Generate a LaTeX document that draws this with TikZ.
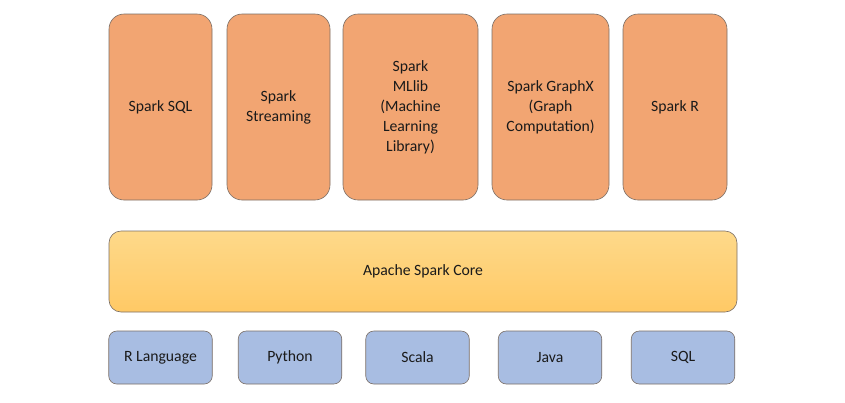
\documentclass[tikz,border=0pt]{standalone}
\usepackage{fontspec}
\setmainfont{Carlito}
\definecolor{orng}{HTML}{F2A572}
\definecolor{coreTop}{HTML}{FED98A}
\definecolor{coreBot}{HTML}{FFC965}
\definecolor{bluef}{HTML}{A8BDE2}
\definecolor{edge}{HTML}{7A6E66}
\definecolor{txt}{HTML}{1A1A1A}
\begin{document}
\begin{tikzpicture}[x=1pt,y=-1pt,
  box/.style={draw=edge, line width=0.6pt, text=txt, align=center, inner sep=0pt,
    font=\fontsize{15.7}{20}\selectfont},
  lib/.style={box, fill=orng, rounded corners=15pt, minimum height=186pt},
  corebox/.style={box, top color=coreTop, bottom color=coreBot, rounded corners=12pt,
    minimum width=628pt, minimum height=81pt},
  lang/.style={box, fill=bluef, rounded corners=8pt, minimum width=103.5pt, minimum height=53pt}]
\useasboundingbox (0,0) rectangle (845,402);
% top libraries
\node[lib, minimum width=103pt] (sql) at (160.5,107) {Spark SQL};
\node[lib, minimum width=103pt] (stream) at (278.5,107) {Spark\\Streaming};
\node[lib, minimum width=135pt] (mllib) at (410.5,107) {Spark\\MLlib\\(Machine\\Learning\\Library)};
\node[lib, minimum width=117pt] (graphx) at (550.5,107) {Spark GraphX\\(Graph\\Computation)};
\node[lib, minimum width=104pt] (sparkr) at (675,107) {Spark R};
% core
\node[corebox] (core) at (423,271.5) {Apache Spark Core};
% languages
\node[lang] (rlang) at (160.5,357.5) {R Language};
\node[lang] (python) at (290,357.5) {Python};
\node[lang] (scala) at (417.5,357.5) {Scala};
\node[lang] (java) at (550,357.5) {Java};
\node[lang] (sqll) at (683,357.5) {SQL};
\end{tikzpicture}
\end{document}
